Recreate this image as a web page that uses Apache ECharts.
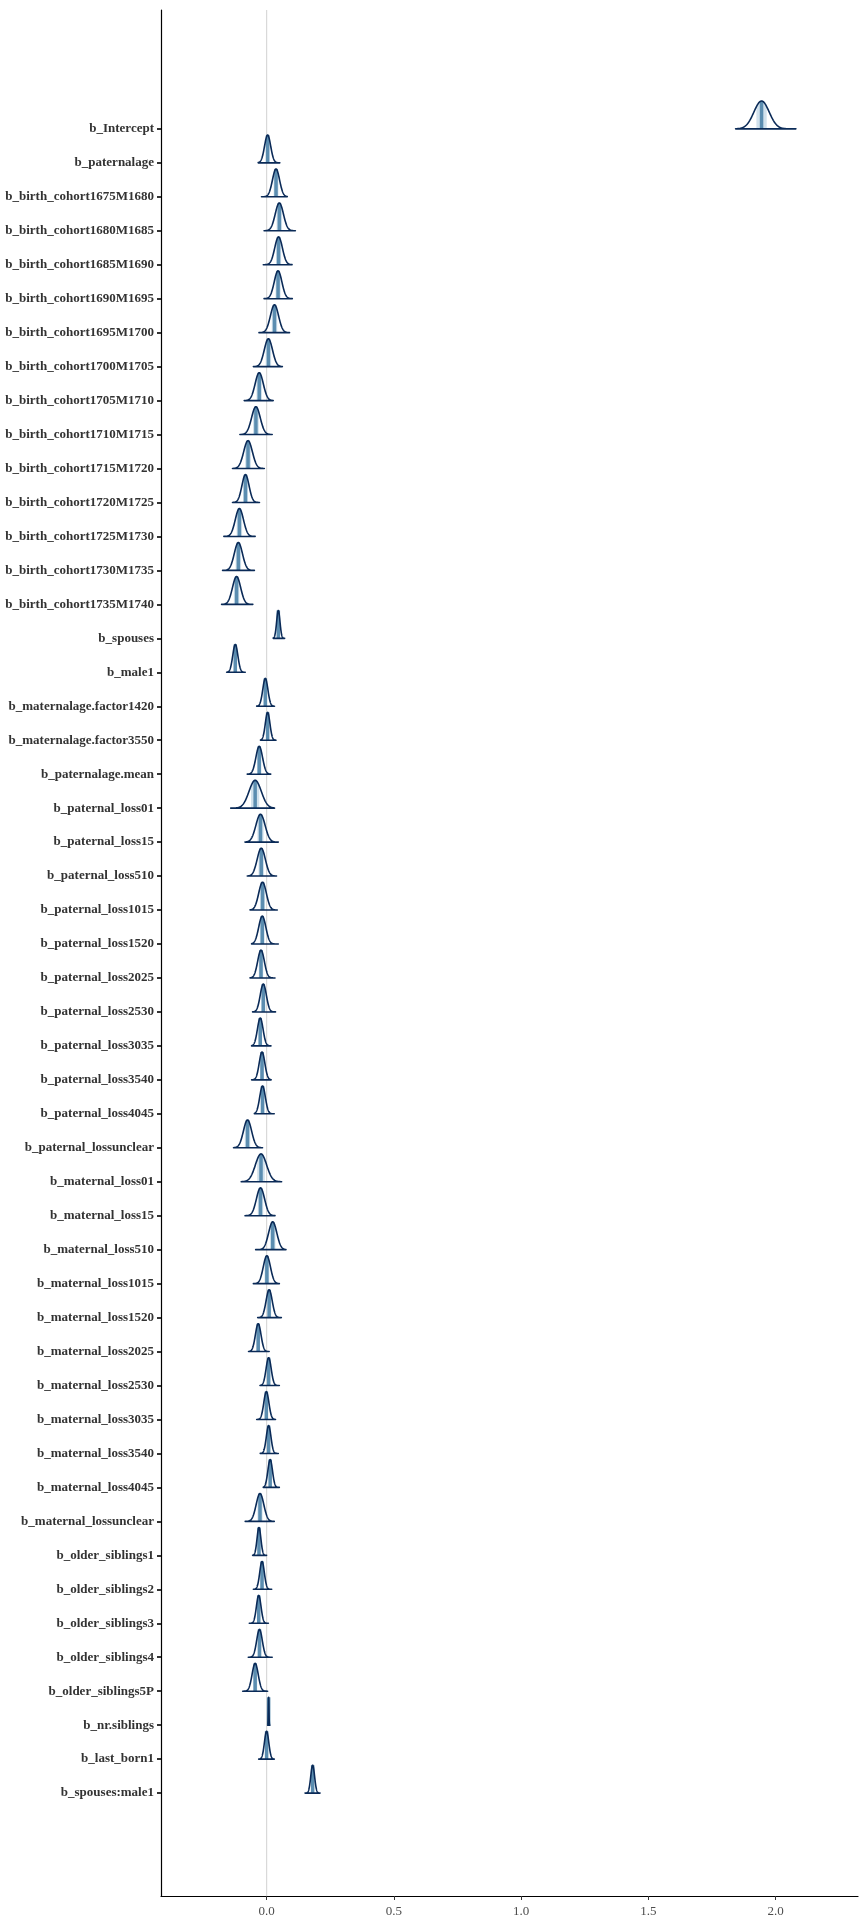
<!DOCTYPE html>
<html>
<head>
<meta charset="utf-8">
<script src="https://cdn.jsdelivr.net/npm/echarts@6/dist/echarts.min.js"></script>
<style>
html,body{margin:0;padding:0;background:#fff;}
#chart{width:864px;height:1920px;}
</style>
</head>
<body>
<div id="chart"></div>
<script>
const paramNames = [
  "b_Intercept","b_paternalage",
  "b_birth_cohort1675M1680","b_birth_cohort1680M1685","b_birth_cohort1685M1690",
  "b_birth_cohort1690M1695","b_birth_cohort1695M1700","b_birth_cohort1700M1705",
  "b_birth_cohort1705M1710","b_birth_cohort1710M1715","b_birth_cohort1715M1720",
  "b_birth_cohort1720M1725","b_birth_cohort1725M1730","b_birth_cohort1730M1735",
  "b_birth_cohort1735M1740","b_spouses","b_male1",
  "b_maternalage.factor1420","b_maternalage.factor3550","b_paternalage.mean",
  "b_paternal_loss01","b_paternal_loss15","b_paternal_loss510","b_paternal_loss1015",
  "b_paternal_loss1520","b_paternal_loss2025","b_paternal_loss2530","b_paternal_loss3035",
  "b_paternal_loss3540","b_paternal_loss4045","b_paternal_lossunclear",
  "b_maternal_loss01","b_maternal_loss15","b_maternal_loss510","b_maternal_loss1015",
  "b_maternal_loss1520","b_maternal_loss2025","b_maternal_loss2530","b_maternal_loss3035",
  "b_maternal_loss3540","b_maternal_loss4045","b_maternal_lossunclear",
  "b_older_siblings1","b_older_siblings2","b_older_siblings3","b_older_siblings4",
  "b_older_siblings5P","b_nr.siblings","b_last_born1","b_spouses:male1"
];
// posterior medians
const medians = [
  1.945, 0.004,
  0.037, 0.050, 0.047, 0.045, 0.031, 0.007, -0.029, -0.042, -0.073, -0.083, -0.107, -0.111, -0.118,
  0.046, -0.123,
  -0.005, 0.004, -0.029,
  -0.045, -0.024, -0.021, -0.016, -0.017, -0.022, -0.013, -0.025, -0.018, -0.016, -0.075,
  -0.022, -0.024, 0.024, 0.001, 0.010, -0.033, 0.008, -0.001, 0.008, 0.014, -0.026,
  -0.030, -0.018, -0.031, -0.028, -0.045,
  0.008, 0.000, 0.181
];
// posterior spread (sd)
const spreads = [
  0.030, 0.012,
  0.014, 0.016, 0.015, 0.015, 0.016, 0.016, 0.016, 0.017, 0.017, 0.014, 0.016, 0.016, 0.016,
  0.0065, 0.010,
  0.010, 0.009, 0.013,
  0.024, 0.018, 0.016, 0.015, 0.014, 0.013, 0.012, 0.011, 0.011, 0.011, 0.016,
  0.022, 0.016, 0.016, 0.014, 0.012, 0.011, 0.010, 0.010, 0.009, 0.009, 0.015,
  0.0075, 0.009, 0.009, 0.011, 0.012,
  0.0012, 0.0085, 0.0075
];
// lowest / highest draws
const lows = [
  1.843, -0.033,
  -0.020, -0.010, -0.013, -0.010, -0.030, -0.052, -0.088, -0.105, -0.134, -0.134, -0.168, -0.173, -0.177,
  0.026, -0.157,
  -0.039, -0.024, -0.076,
  -0.141, -0.085, -0.076, -0.065, -0.059, -0.065, -0.055, -0.059, -0.059, -0.048, -0.130,
  -0.100, -0.085, -0.043, -0.052, -0.035, -0.071, -0.026, -0.039, -0.025, -0.013, -0.084,
  -0.055, -0.052, -0.068, -0.072, -0.094,
  0.004, -0.031, 0.151
];
const highs = [
  2.080, 0.052,
  0.081, 0.113, 0.100, 0.101, 0.090, 0.062, 0.026, 0.022, -0.009, -0.028, -0.045, -0.048, -0.054,
  0.071, -0.084,
  0.031, 0.037, 0.016,
  0.031, 0.046, 0.039, 0.042, 0.046, 0.033, 0.035, 0.017, 0.018, 0.030, -0.016,
  0.059, 0.033, 0.076, 0.050, 0.058, 0.010, 0.050, 0.035, 0.046, 0.050, 0.030,
  0.000, 0.020, 0.007, 0.022, 0.004,
  0.013, 0.030, 0.210
];
const xTicks = [0, 0.5, 1.0, 1.5, 2.0];
const yTicks = paramNames.map((_, i) => i);

const FONT = "'Liberation Serif','DejaVu Serif',serif";
const H = 0.82; // ridge height in row units

const data = paramNames.map((n, i) => [i, medians[i], spreads[i], lows[i], highs[i]]);

function dens(x, m, s) { return Math.exp(-0.5 * Math.pow((x - m) / s, 2)); }

function renderItem(params, api) {
  const idx = api.value(0), m = api.value(1), s = api.value(2), lo = api.value(3), hi = api.value(4);
  const N = 120;
  const curve = [];
  for (let k = 0; k <= N; k++) {
    const x = lo + (hi - lo) * k / N;
    curve.push(api.coord([x, idx - H * dens(x, m, s)]));
  }
  const outline = curve.concat([api.coord([hi, idx]), api.coord([lo, idx])]);
  const a = m - 0.674 * s, b = m + 0.674 * s;
  const inner = [];
  for (let k = 0; k <= 30; k++) {
    const x = a + (b - a) * k / 30;
    inner.push(api.coord([x, idx - H * dens(x, m, s)]));
  }
  inner.push(api.coord([b, idx]));
  inner.push(api.coord([a, idx]));
  const p0 = api.coord([m, idx]);
  const p1 = api.coord([m, idx - H]);
  return {
    type: 'group',
    children: [
      { type: 'polygon', shape: { points: inner }, style: { fill: '#d1e1ec', stroke: null } },
      { type: 'line', shape: { x1: p0[0], y1: p0[1], x2: p1[0], y2: p1[1] },
        style: { stroke: '#5b8db0', lineWidth: 3.5 } },
      { type: 'polygon', shape: { points: outline },
        style: { fill: null, stroke: '#0a2a57', lineWidth: 1.6, lineJoin: 'round' } }
    ]
  };
}

const chart = echarts.init(document.getElementById('chart'), null, { renderer: 'canvas' });
chart.setOption({
  backgroundColor: '#ffffff',
  animation: false,
  grid: { left: 161, right: 6, top: 10, bottom: 24, containLabel: false },
  xAxis: {
    type: 'value', min: -0.415, max: 2.324,
    axisLine: { show: true, onZero: false, lineStyle: { color: '#000', width: 1.2 } },
    axisTick: { show: true, customValues: xTicks, length: 4, lineStyle: { color: '#333', width: 1 } },
    axisLabel: { show: true, customValues: xTicks, formatter: v => Number(v).toFixed(1),
      color: '#4d4d4d', fontSize: 13, fontFamily: FONT, margin: 9 },
    splitLine: { show: false }
  },
  yAxis: {
    type: 'value', inverse: true, min: -3.5, max: 52.03,
    axisLine: { show: true, onZero: false, lineStyle: { color: '#000', width: 1.2 } },
    axisTick: { show: true, customValues: yTicks, length: 4, lineStyle: { color: '#333', width: 2 } },
    axisLabel: { show: true, customValues: yTicks, formatter: v => paramNames[Math.round(v)] || '',
      color: '#333', fontSize: 13, fontWeight: 'bold', fontFamily: FONT, margin: 7 },
    splitLine: { show: false }
  },
  series: [
    {
      type: 'line', z: 1, silent: true, symbol: 'none',
      data: [[0, -3.5], [0, 52.03]],
      lineStyle: { color: '#d9d9d9', width: 1.2 }
    },
    {
      type: 'custom', z: 2, renderItem: renderItem, data: data,
      encode: { x: 1, y: 0 }, clip: false
    }
  ]
});
</script>
</body>
</html>
